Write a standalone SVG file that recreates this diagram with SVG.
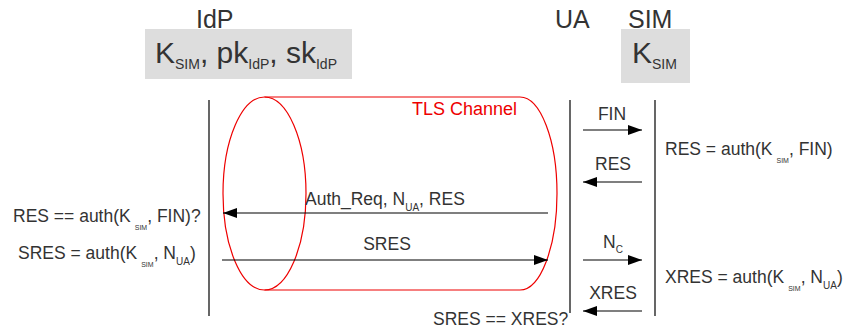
<svg xmlns="http://www.w3.org/2000/svg" width="847" height="331" viewBox="0 0 847 331">
<defs>
<marker id="ah" markerWidth="14" markerHeight="10" refX="14" refY="5" orient="auto" markerUnits="userSpaceOnUse"><path d="M0,0 L14,5 L0,10 Z" fill="#000"/></marker>
<style>
text{font-family:"Liberation Sans",Arial,sans-serif;fill:#333}
.h{font-size:25px}
.k{font-size:30px}
.t{font-size:17.5px}
.s{font-size:7px}
.ss{font-size:10px}
.sk{font-size:14px}
.ln{stroke:#000;stroke-width:1.2;fill:none}
.ar{stroke:#000;stroke-width:1.2;fill:none;marker-end:url(#ah)}
.red{stroke:#e00;stroke-width:1.2;fill:none}
</style>
</defs>
<rect width="847" height="331" fill="#fff"/>
<g id="idp">
<text class="h" x="196" y="28">IdP</text>
<rect x="145" y="29" width="207" height="50" fill="#ddd"/>
<text class="k" x="155" y="63">K<tspan class="sk" dy="6">SIM</tspan><tspan dy="-6">, pk</tspan><tspan class="sk" dy="6">IdP</tspan><tspan dy="-6">, sk</tspan><tspan class="sk" dy="6">IdP</tspan></text>
<line class="ln" x1="209" y1="100" x2="209" y2="316"/>
</g>
<g id="ua">
<text class="h" x="555" y="28">UA</text>
<line class="ln" x1="570" y1="100" x2="570" y2="313"/>
</g>
<g id="sim">
<text class="h" x="628" y="28">SIM</text>
<rect x="621" y="29" width="69" height="54" fill="#ddd"/>
<text class="k" x="632" y="63">K<tspan class="sk" dy="6">SIM</tspan></text>
<line class="ln" x1="655" y1="100" x2="655" y2="316"/>
</g>
<g id="tls">
<ellipse class="red" cx="264.5" cy="193.5" rx="41.5" ry="96.5"/>
<path class="red" d="M264.5,97 L520,97 A37,96.5 0 0 1 520,290 L264.5,290"/>
<text x="412" y="115" style="font-size:18px;fill:#e00">TLS Channel</text>
</g>
<g id="connectors">
<line class="ar" x1="583" y1="130" x2="642" y2="130"/>
<line class="ar" x1="642" y1="182" x2="583" y2="182"/>
<line class="ar" x1="548" y1="213" x2="223" y2="213"/>
<line class="ar" x1="222" y1="260" x2="548" y2="260"/>
<line class="ar" x1="583" y1="260" x2="642" y2="260"/>
<line class="ar" x1="642" y1="311" x2="583" y2="311"/>
</g>
<g id="labels">
<text class="t" x="612" y="120" text-anchor="middle">FIN</text>
<text class="t" x="613" y="170" text-anchor="middle">RES</text>
<text class="t" x="305" y="205">Auth_Req, N<tspan class="ss" dy="6">UA</tspan><tspan dy="-6">, RES</tspan></text>
<text class="t" x="387" y="250" text-anchor="middle">SRES</text>
<text class="t" x="603" y="248">N<tspan class="ss" dy="5">C</tspan></text>
<text class="t" x="613" y="299" text-anchor="middle">XRES</text>
<text class="t" x="665" y="155">RES = auth(K<tspan class="s" dx="4" dy="8">SIM</tspan><tspan dy="-8">, FIN)</tspan></text>
<text class="t" x="665" y="283">XRES = auth(K<tspan class="s" dx="4" dy="8">SIM</tspan><tspan dy="-8">, N</tspan><tspan class="ss" dy="6">UA</tspan><tspan dy="-6">)</tspan></text>
<text class="t" x="13" y="222">RES == auth(K<tspan class="s" dx="4" dy="8">SIM</tspan><tspan dy="-8">, FIN)?</tspan></text>
<text class="t" x="18" y="259">SRES = auth(K<tspan class="s" dx="4" dy="8">SIM</tspan><tspan dy="-8">, N</tspan><tspan class="ss" dy="6">UA</tspan><tspan dy="-6">)</tspan></text>
<text class="t" x="433" y="325">SRES == XRES?</text>
</g>
</svg>
